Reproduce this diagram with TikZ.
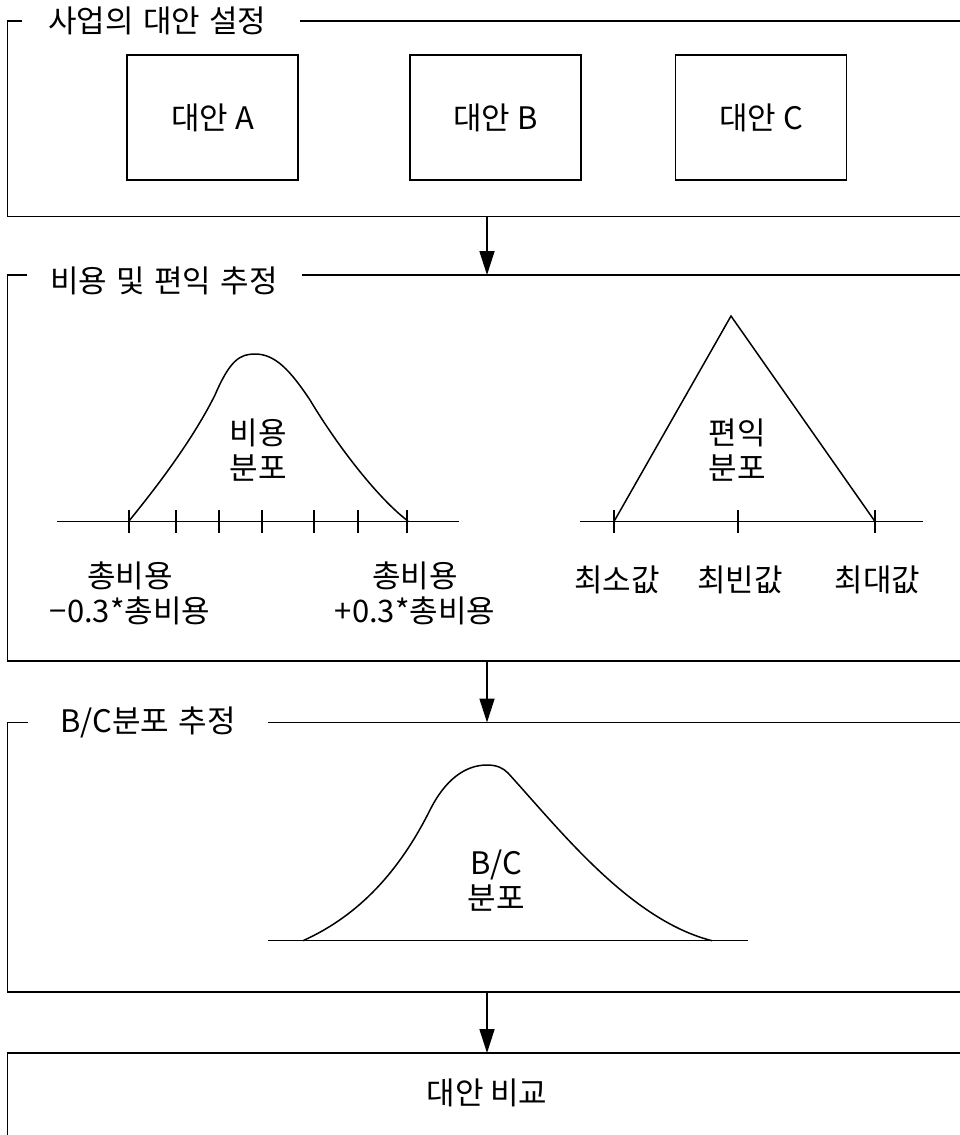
\documentclass[tikz,border=0pt]{standalone}
\usepackage{fontspec}
\setmainfont{Noto Sans CJK KR}
\usetikzlibrary{arrows.meta}
\newcommand{\widewordspace}{\spaceskip=0.3em\relax}
\begin{document}
\begin{tikzpicture}[x=1pt,y=-1pt,
  frame/.style={line width=1.7pt},
  altbox/.style={draw, line width=1.7pt, minimum width=171pt, minimum height=125pt, inner sep=0pt, font=\fontsize{31}{35}\selectfont},
  lbl/.style={inner sep=0pt, font=\fontsize{31}{35}\selectfont, align=center},
  title/.style={inner sep=0pt, anchor=west, font=\fontsize{31}{35}\selectfont, execute at begin node=\widewordspace},
  curve/.style={line width=1.5pt},
  axis/.style={line width=1.5pt},
  flow/.style={line width=1.7pt, -{Triangle[length=24pt,width=15pt]}}]
\useasboundingbox (0,0) rectangle (960,1135);
\clip (0,0) rectangle (960,1135);

% ---------- section 1 ----------
\draw[frame] (22,21) -- (7.5,21) -- (7.5,216.5) -- (970,216.5);
\draw[frame] (300,21) -- (970,21);
\node[title] (t1) at (48,21) {사업의 대안 설정};
\node[altbox] (A) at (212.5,117.5) {대안 A};
\node[altbox] (B) at (495.5,117.5) {대안 B};
\node[altbox] (C) at (761,117.5) {대안 C};

% ---------- section 2 ----------
\draw[frame] (27,275) -- (7.5,275) -- (7.5,661) -- (970,661);
\draw[frame] (302,275) -- (970,275);
\node[title] (t2) at (50,281) {비용 및 편익 추정};

% cost distribution
\draw[axis] (57,521.5) -- (459,521.5);
\foreach \x in {129,176,219,262,314,358,407}
  \draw[axis] (\x,510) -- (\x,533);
\draw[curve] (129,521) .. controls (150,495) and (190,445) .. (215,395)
  .. controls (230,360) and (240,354) .. (255,354)
  .. controls (275,354) and (290,370) .. (310,400)
  .. controls (340,450) and (380,500) .. (408,521);
\node[lbl] (cost) at (258,450.5) {비용\\분포};
\node[lbl] (cmin) at (130,593.5) {총비용\\−0.3*총비용};
\node[lbl] (cmax) at (415,593.5) {총비용\\+0.3*총비용};

% benefit distribution
\draw[axis] (580,521.5) -- (923,521.5);
\foreach \x in {614,738,875}
  \draw[axis] (\x,510) -- (\x,533);
\draw[curve] (614,521.5) -- (731,316) -- (875,521.5);
\node[lbl] (ben) at (737,450.5) {편익\\분포};
\node[lbl] (bmin) at (617,580) {최소값};
\node[lbl] (bmode) at (740,580) {최빈값};
\node[lbl] (bmax) at (877.5,580) {최대값};

% ---------- section 3 ----------
\draw[frame] (28,722.5) -- (7.5,722.5) -- (7.5,992) -- (970,992);
\draw[frame] (268,722.5) -- (970,722.5);
\node[title] (t3) at (60,722.5) {B/C분포 추정};
\draw[axis] (268,940.7) -- (748,940.7);
\draw[curve] (303,940.7) .. controls (360,915) and (400,870) .. (430,810)
  .. controls (445,780) and (465,765) .. (487,765)
  .. controls (497,765) and (503,768) .. (508,773)
  .. controls (560,830) and (630,920) .. (712,940.7);
\node[lbl] (bc) at (496,880.5) {B/C\\분포};

% ---------- section 4 ----------
\draw[frame] (7.5,1140) -- (7.5,1053) -- (970,1053);
\node[lbl] (cmp) at (487,1093) {대안 비교};

% ---------- flow arrows ----------
\coordinate (s1b) at (487,216.5);
\coordinate (s2t) at (487,275);
\coordinate (s2b) at (487,661);
\coordinate (s3t) at (487,722.5);
\coordinate (s3b) at (487,992);
\coordinate (s4t) at (487,1053);
\draw[flow] (s1b) -- (s2t);
\draw[flow] (s2b) -- (s3t);
\draw[flow] (s3b) -- (s4t);
\end{tikzpicture}
\end{document}
